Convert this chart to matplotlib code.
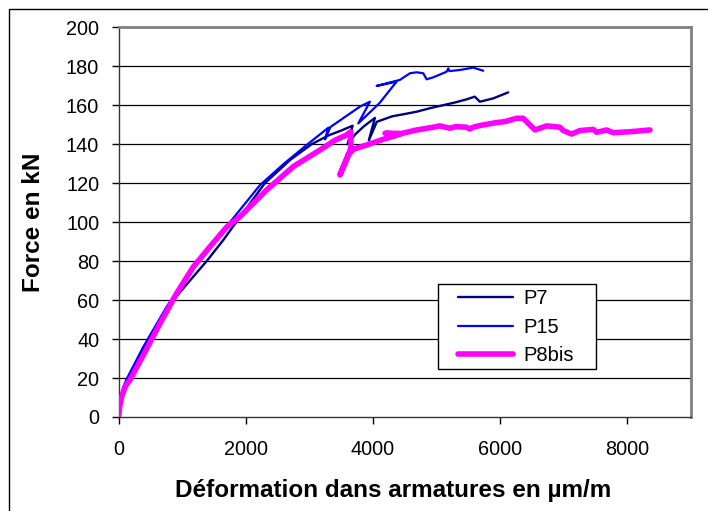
import matplotlib
matplotlib.use("Agg")
import matplotlib.pyplot as plt
from matplotlib.patches import Rectangle

plt.rcParams['font.family'] = ['Liberation Sans', 'DejaVu Sans']

# Strain in reinforcement (µm/m) and applied force (kN) for each specimen
p7_strain = [0, 30, 130, 400, 620, 860, 1174, 1385, 1646, 1850, 2300, 2700, 3035,
             3300, 3500, 3680, 3600, 3720, 3850, 4030, 3935, 4060, 4300, 4500, 4690,
             4900, 5100, 5300, 5470, 5600, 5680, 5890, 6126]
p7_force = [0, 8, 19, 36, 48, 60, 72, 80, 90.8, 100, 120, 132, 140,
            144.5, 147, 149.5, 140, 145, 149, 153.5, 142, 151.5, 154.3, 155.5, 156.7,
            158.5, 160, 161.5, 163, 164.4, 161.8, 163.5, 166.6]

p15_strain = [0, 22, 74, 127, 389, 756, 1000, 1250, 1646, 1777, 2223, 2600, 2957,
              3300, 3245, 3330, 3795, 3952, 3769, 4100, 4371, 4057, 4423, 4581, 4686,
              4790, 4843, 4947, 5157, 5184, 5200, 5367, 5576, 5733]
p15_force = [0, 8.7, 15.5, 19.5, 36, 56.6, 68.5, 80, 96, 101, 119, 130, 139.6,
             148.5, 142.5, 148.8, 159.3, 161.8, 150.7, 161, 172.1, 169.9, 173, 176.4, 176.9,
             176.4, 173.3, 174.3, 177.2, 178.9, 177.5, 178.1, 179.3, 177.7]

p8bis_strain = [0, 15, 48, 110, 179, 389, 651, 913, 1174, 1437, 1700, 1908, 2328,
                2746, 3166, 3400, 3585, 3650, 3652, 3600, 3480, 3540, 3620, 3700, 3900,
                4161, 4423, 4190, 4450, 4686, 4947, 5050, 5209, 5300, 5472, 5520, 5600,
                5733, 5944, 6075, 6258, 6362, 6441, 6546, 6730, 6939, 6991, 7123, 7253,
                7462, 7515, 7673, 7777, 8039, 8354]
p8bis_force = [0, 5, 10.4, 16, 19, 31.8, 48, 63.5, 77, 87.4, 97.5, 102.8, 116.5,
               128.5, 137, 142, 144.7, 146.4, 138, 133.5, 124.2, 129, 135, 137.5, 139.6,
               142.5, 145.1, 145.6, 145.5, 147.3, 148.7, 149.4, 148.2, 149, 148.7, 147.8, 149,
               149.9, 151.1, 151.6, 153.3, 153.3, 150.7, 147.3, 149.4, 148.7, 147, 145.2, 147,
               147.6, 146.1, 147.3, 145.9, 146.4, 147.3]

x_ticks = [0, 2000, 4000, 6000, 8000]
y_ticks = list(range(0, 201, 20))

W, H = 708, 511
fig = plt.figure(figsize=(W / 100, H / 100), dpi=100)
ax = fig.add_axes([0.1675, 0.1840, 0.8085, 0.7626])

ax.set_xlim(0, 9000)
ax.set_ylim(0, 200)
ax.set_xticks(x_ticks)
ax.set_yticks(y_ticks)
ax.tick_params(axis='both', direction='out', length=5, width=1, colors='black',
               labelsize=14.3)
ax.tick_params(axis='y', pad=9)
ax.tick_params(axis='x', pad=11.5)

for y in y_ticks[1:-1]:
    ax.axhline(y, color='black', lw=0.9, zorder=1)

for side in ('top', 'right'):
    ax.spines[side].set_color('#808080')
    ax.spines[side].set_linewidth(2)
for side in ('left', 'bottom'):
    ax.spines[side].set_color('#333333')
    ax.spines[side].set_linewidth(1)

line_kw = dict(solid_capstyle='round', solid_joinstyle='round', zorder=3)
ax.plot(p7_strain, p7_force, color='#000080', lw=1.7, label='P7', **line_kw)
ax.plot(p15_strain, p15_force, color='#0000FF', lw=1.6, label='P15', **line_kw)
ax.plot(p8bis_strain, p8bis_force, color='#FF00FF', lw=4, label='P8bis', **line_kw)

# Legend box drawn separately so its padding can be set freely
def ax_x(px):
    return (px - 118.6) / 572.4

def ax_y(py):
    return (417 - py) / 389.7

ax.add_patch(Rectangle((ax_x(438), ax_y(369)), 158 / 572.4, 85 / 389.7,
                       transform=ax.transAxes, facecolor='white',
                       edgecolor='black', lw=1, zorder=4.5, clip_on=False))
leg = ax.legend(loc='upper left', bbox_to_anchor=(ax_x(458), ax_y(289)),
                fontsize=14.5, frameon=False, handlelength=2.73,
                handletextpad=0.5, borderpad=0, labelspacing=0.48,
                borderaxespad=0)
leg.set_zorder(5)

fig.text(393 / W, 1 - 490 / H, 'Déformation dans armatures en µm/m',
         ha='center', va='center', fontsize=17.5, fontweight='bold')
fig.text(33 / W, 1 - 222 / H, 'Force en kN', ha='center', va='center',
         rotation=90, fontsize=17.5, fontweight='bold')

# Outer chart frame
fig.add_artist(Rectangle((9 / W, -0.1), 2, 1 - 9 / H + 0.1,
                         transform=fig.transFigure, fill=False,
                         edgecolor='black', lw=1, clip_on=False))

fig.savefig('out.png', dpi=100)
